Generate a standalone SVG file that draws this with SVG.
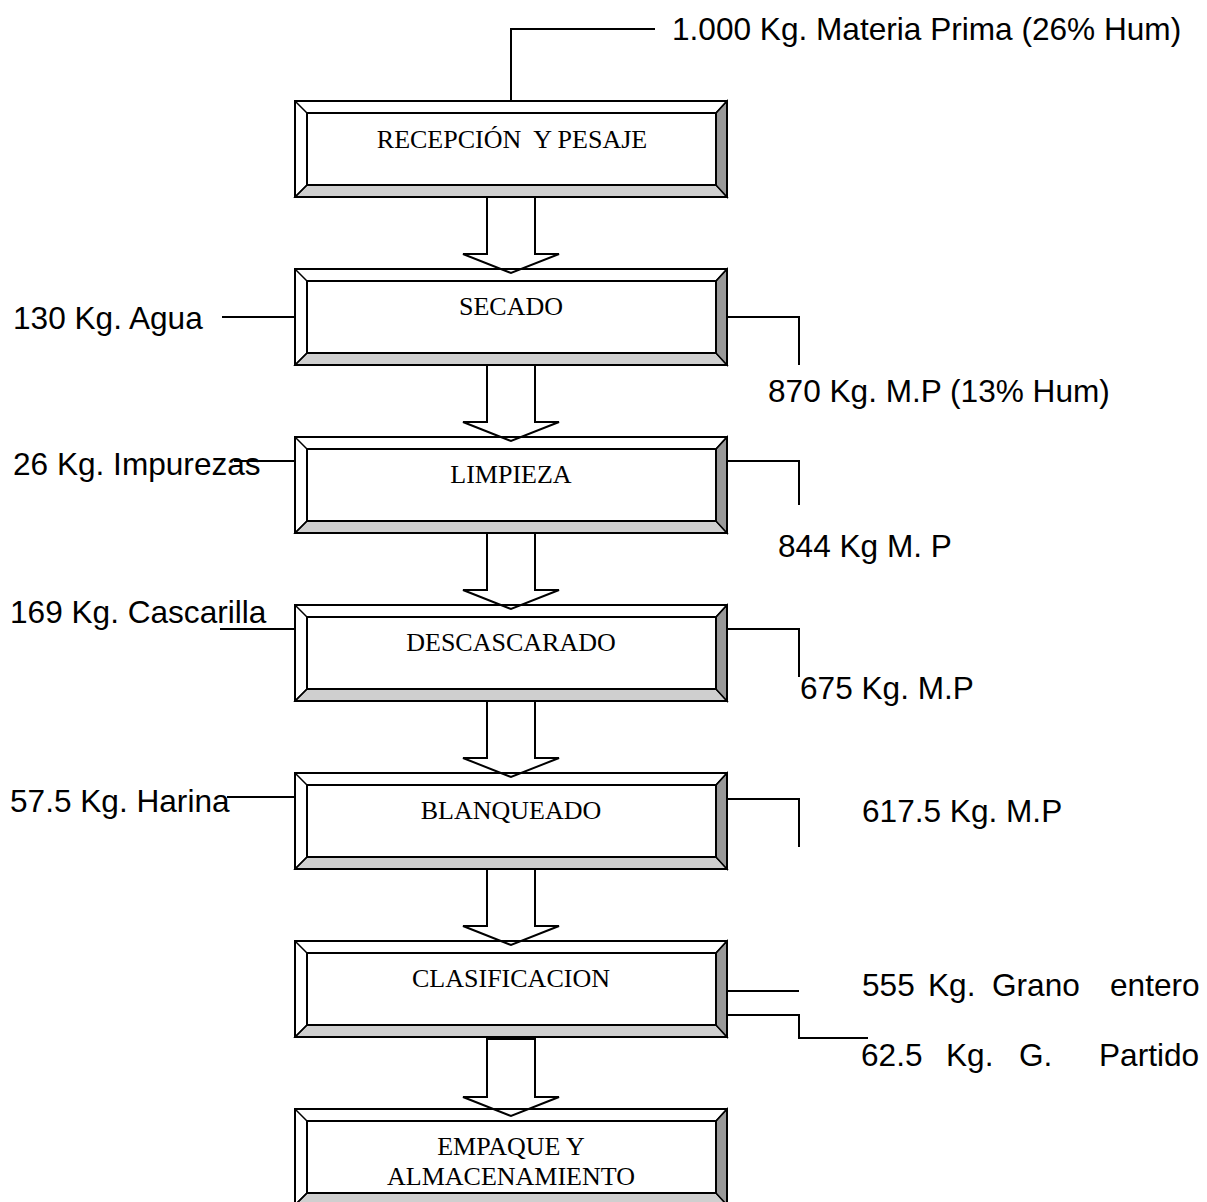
<svg xmlns="http://www.w3.org/2000/svg" xmlns:xlink="http://www.w3.org/1999/xlink" width="1207" height="1202" viewBox="0 0 1207 1202">
<style>
.box{fill:#fff;stroke:#000;stroke-width:2}
.inner{fill:none;stroke:#000;stroke-width:2}
.bl{fill:#cfcfcf;stroke:#000;stroke-width:1.5;stroke-linejoin:miter}
.br{fill:#999;stroke:#000;stroke-width:1.5}
.diag{stroke:#000;stroke-width:1.5}
.bt{font-family:"Liberation Serif","Times New Roman",serif;font-size:26px;fill:#000;text-anchor:middle}
.lab{font-family:"Liberation Sans",Arial,sans-serif;font-size:31.6px;fill:#000}
.con{fill:none;stroke:#000;stroke-width:2}
.arr{fill:none;stroke:#000;stroke-width:2;stroke-linejoin:miter}
</style>
<defs>
<g id="bevel">
<rect class="box" x="0" y="0" width="432" height="96"/>
<polygon class="bl" points="0,96 432,96 421,84 12,84"/>
<polygon class="br" points="432,0 432,96 421,84 421,12"/>
<line class="diag" x1="0" y1="0" x2="12" y2="12"/>
<line class="diag" x1="432" y1="0" x2="421" y2="12"/>
<line class="diag" x1="0" y1="96" x2="12" y2="84"/>
<rect class="inner" x="12" y="12" width="409" height="72"/>
<rect class="inner" x="0" y="0" width="432" height="96"/>
</g>
</defs>

<g id="node-recepcion" transform="translate(295,101)">
<use xlink:href="#bevel"/>
<text class="bt" x="217" y="47" xml:space="preserve">RECEPCIÓN  Y PESAJE</text>
</g>
<g id="node-secado" transform="translate(295,269)">
<use xlink:href="#bevel"/>
<text class="bt" x="216" y="46">SECADO</text>
</g>
<g id="node-limpieza" transform="translate(295,437)">
<use xlink:href="#bevel"/>
<text class="bt" x="216" y="46">LIMPIEZA</text>
</g>
<g id="node-descascarado" transform="translate(295,605)">
<use xlink:href="#bevel"/>
<text class="bt" x="216" y="46">DESCASCARADO</text>
</g>
<g id="node-blanqueado" transform="translate(295,773)">
<use xlink:href="#bevel"/>
<text class="bt" x="216" y="46">BLANQUEADO</text>
</g>
<g id="node-clasificacion" transform="translate(295,941)">
<use xlink:href="#bevel"/>
<text class="bt" x="216" y="46">CLASIFICACION</text>
</g>
<g id="node-empaque" transform="translate(295,1109)">
<use xlink:href="#bevel"/>
<text class="bt" x="216" y="46">EMPAQUE Y</text>
<text class="bt" x="216" y="76">ALMACENAMIENTO</text>
</g>

<g id="connectors">
<polygon class="arr" points="487,197 535,197 535,254 559,254 511,273 463,254 487,254"/>
<polygon class="arr" points="487,365 535,365 535,422 559,422 511,441 463,422 487,422"/>
<polygon class="arr" points="487,533 535,533 535,590 559,590 511,609 463,590 487,590"/>
<polygon class="arr" points="487,701 535,701 535,758 559,758 511,777 463,758 487,758"/>
<polygon class="arr" points="487,869 535,869 535,926 559,926 511,945 463,926 487,926"/>
<polygon class="arr" points="487,1039 535,1039 535,1097 559,1097 511,1116 463,1097 487,1097"/>
<polyline class="con" points="511,101 511,29 655,29"/>
<line class="con" x1="222" y1="317" x2="295" y2="317"/>
<polyline class="con" points="727,317 799,317 799,365"/>
<line class="con" x1="234" y1="461" x2="295" y2="461"/>
<polyline class="con" points="727,461 799,461 799,505"/>
<line class="con" x1="220" y1="629" x2="295" y2="629"/>
<polyline class="con" points="727,629 799,629 799,677"/>
<line class="con" x1="227" y1="797" x2="295" y2="797"/>
<polyline class="con" points="727,799 799,799 799,847"/>
<line class="con" x1="727" y1="991" x2="799" y2="991"/>
<polyline class="con" points="727,1015 799,1015 799,1038 868,1038"/>
</g>

<g id="labels">
<text class="lab" x="672" y="40">1.000 Kg. Materia Prima (26% Hum)</text>
<text class="lab" x="13" y="329">130 Kg. Agua</text>
<text class="lab" x="768" y="402">870 Kg. M.P (13% Hum)</text>
<text class="lab" x="13" y="475">26 Kg. Impurezas</text>
<text class="lab" x="778" y="557">844 Kg M. P</text>
<text class="lab" x="10" y="623">169 Kg. Cascarilla</text>
<text class="lab" x="800" y="699">675 Kg. M.P</text>
<text class="lab" x="10" y="812">57.5 Kg. Harina</text>
<text class="lab" x="862" y="822">617.5 Kg. M.P</text>
<text class="lab" y="996"><tspan x="862">555</tspan><tspan x="928">Kg.</tspan><tspan x="992">Grano</tspan><tspan x="1110">entero</tspan></text>
<text class="lab" y="1066"><tspan x="861">62.5</tspan><tspan x="946">Kg.</tspan><tspan x="1019">G.</tspan><tspan x="1099">Partido</tspan></text>
</g>
</svg>
